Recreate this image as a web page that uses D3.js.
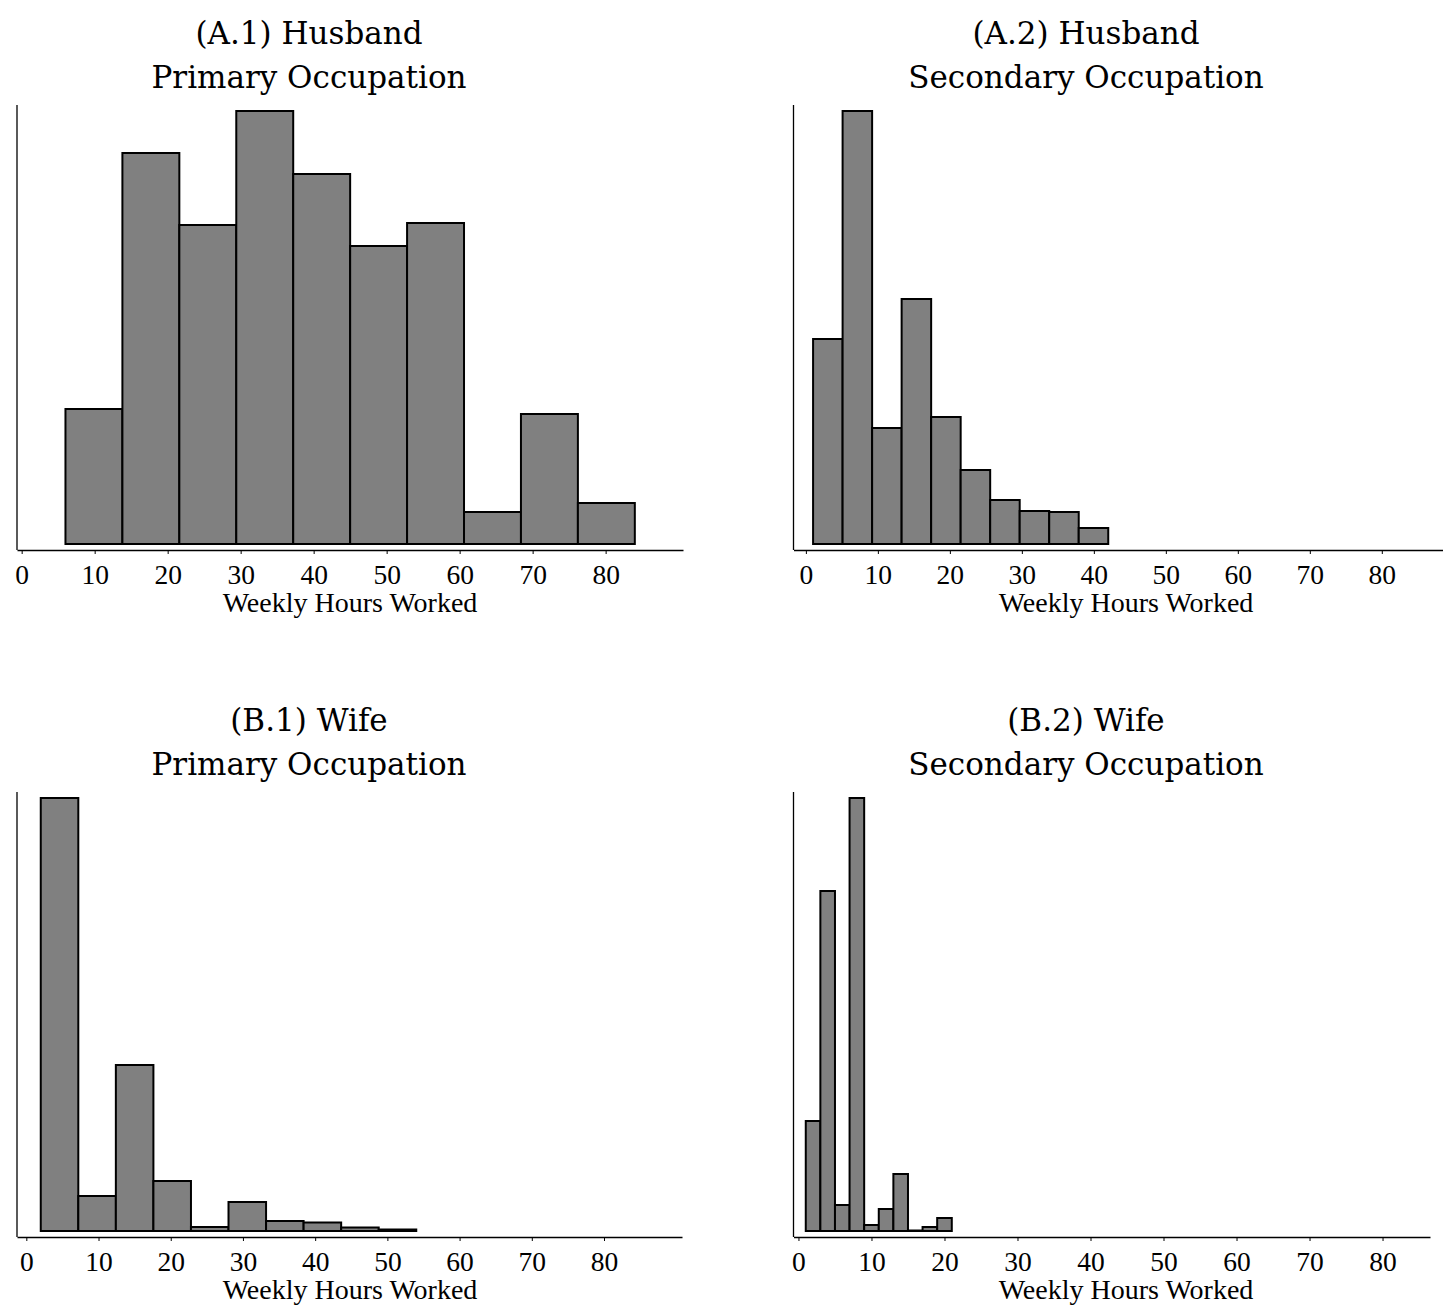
<!DOCTYPE html>
<html>
<head>
<meta charset="utf-8" />
<title>Weekly Hours Worked</title>
<script src="https://d3js.org/d3.v7.min.js"></script>
<style>
  body { margin: 0; background: #fff; }
  svg { display: block; }
</style>
</head>
<body>
<svg id="chart" width="1443" height="1306"></svg>
<script>

// bin edges (hours) and bar heights (relative frequency, y axis unlabelled)
var husbandPrimaryEdges = [6, 13.8, 21.6, 29.4, 37.2, 45, 52.8, 60.6, 68.4, 76.2, 84];
var husbandPrimaryHeights = [135, 391, 319, 433, 370, 298, 321, 32, 130, 41];

var husbandSecondaryEdges = [1, 5.1, 9.2, 13.3, 17.4, 21.5, 25.6, 29.7, 33.8, 37.9, 42];
var husbandSecondaryHeights = [205, 433, 116, 245, 127, 74, 44, 33, 32, 16];

var wifePrimaryEdges = [2, 7.2, 12.4, 17.6, 22.8, 28, 33.2, 38.4, 43.6, 48.8, 54];
var wifePrimaryHeights = [433, 35, 166, 50, 4, 29, 10, 8.5, 3.5, 1.5];

var wifeSecondaryEdges = [1, 3, 5, 7, 9, 11, 13, 15, 17, 19, 21];
var wifeSecondaryHeights = [110, 340, 26, 433, 6, 22, 57, 0.5, 4, 13];

var tickValues = [0, 10, 20, 30, 40, 50, 60, 70, 80];
var xLabel = "Weekly Hours Worked";

var panels = [
    { title: ["(A.1) Husband", "Primary Occupation"], edges: husbandPrimaryEdges, heights: husbandPrimaryHeights,
      left: 17, right: 683, dom: [-0.64, 90.6], top: 105, axisY: 550, titleX: 309, labelX: 350 },
    { title: ["(A.2) Husband", "Secondary Occupation"], edges: husbandSecondaryEdges, heights: husbandSecondaryHeights,
      left: 793.5, right: 1443, dom: [-1.72, 88.5], top: 105, axisY: 550, titleX: 1086, labelX: 1126 },
    { title: ["(B.1) Wife", "Primary Occupation"], edges: wifePrimaryEdges, heights: wifePrimaryHeights,
      left: 17, right: 682, dom: [-1.29, 90.8], top: 792, axisY: 1237, titleX: 309, labelX: 350 },
    { title: ["(B.2) Wife", "Secondary Occupation"], edges: wifeSecondaryEdges, heights: wifeSecondaryHeights,
      left: 793.5, right: 1430, dom: [-0.68, 86.5], top: 792, axisY: 1237, titleX: 1086, labelX: 1126 }
];

var svg = d3.select("#chart");

panels.forEach(function (p) {
    var g = svg.append("g");

    var x = d3.scaleLinear().domain(p.dom).range([p.left, p.right]);
    var maxH = d3.max(p.heights);
    var pad = maxH * 6 / 433;
    var y = d3.scaleLinear().domain([-pad, maxH + pad]).range([p.axisY, p.top]);

    var bins = p.heights.map(function (h, i) {
        return { x0: p.edges[i], x1: p.edges[i + 1], h: h };
    });

    // bars
    g.selectAll("rect.bar")
        .data(bins)
        .enter().append("rect")
        .attr("class", "bar")
        .attr("x", function (d) { return x(d.x0); })
        .attr("width", function (d) { return x(d.x1) - x(d.x0); })
        .attr("y", function (d) { return y(d.h); })
        .attr("height", function (d) { return y(0) - y(d.h); })
        .attr("fill", "#808080")
        .attr("stroke", "#000")
        .attr("stroke-width", 2);

    // y axis line, no ticks
    g.append("line")
        .attr("x1", p.left).attr("x2", p.left)
        .attr("y1", p.top).attr("y2", p.axisY)
        .attr("stroke", "#000").attr("stroke-width", 1.3);

    // x axis
    var xAxis = d3.axisBottom(x).tickValues(tickValues).tickSize(4).tickSizeOuter(0).tickPadding(10);
    var ax = g.append("g")
        .attr("transform", "translate(0," + p.axisY + ")")
        .call(xAxis);
    ax.select(".domain").attr("stroke", "#000").attr("stroke-width", 1.6);
    ax.selectAll(".tick line").attr("stroke", "#000").attr("stroke-width", 1);
    ax.selectAll(".tick text")
        .attr("fill", "#000")
        .style("font-family", "'Liberation Serif', 'Times New Roman', serif")
        .style("font-size", "27.5px");

    g.append("text")
        .attr("x", p.labelX)
        .attr("y", p.axisY + 62)
        .attr("text-anchor", "middle")
        .style("font-family", "'Liberation Serif', 'Times New Roman', serif")
        .style("font-size", "28px")
        .text(xLabel);

    // two-line title
    var t = g.append("text")
        .attr("text-anchor", "middle")
        .style("font-family", "'DejaVu Serif', serif")
        .style("font-size", "31px")
        .attr("fill", "#000");
    p.title.forEach(function (line, i) {
        t.append("tspan")
            .attr("x", p.titleX)
            .attr("y", p.top - 61 + i * 44)
            .text(line);
    });
});

</script>
</body>
</html>
